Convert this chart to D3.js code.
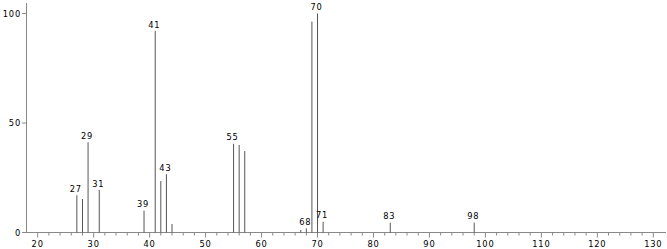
<!DOCTYPE html>
<html><head><meta charset="utf-8">
<script src="https://cdn.jsdelivr.net/npm/d3@7"></script>
<style>
html,body{margin:0;padding:0;background:#fff;}
text{font-family:"DejaVu Sans",sans-serif;font-size:8.3px;fill:#000;letter-spacing:0.8px;}
</style></head>
<body><svg id="c" width="667" height="249"></svg>
<script>
const mz = [27,28,29,31,39,41,42,43,44,55,56,57,67,68,69,70,71,83,98];
const intensity = [17,15.3,41.2,19.4,10,92,23.5,26.6,3.9,40.5,40,37.2,1.1,1.9,96.3,100,4.9,4.5,4.5];
const labeled = [27,29,31,39,41,43,55,68,70,71,83,98];
const xMajorTicks = [20,30,40,50,60,70,80,90,100,110,120,130];
const yTicks = [0,50,100];

const svg = d3.select("#c");
const x = d3.scaleLinear().domain([20,130]).range([37.7,653.3]);
const y = d3.scaleLinear().domain([0,100]).range([232.5,13.5]);
const axisColor = "#888";

svg.append("line").attr("x1",x(17.9)).attr("x2",666).attr("y1",232.5).attr("y2",232.5)
  .attr("stroke",axisColor).attr("stroke-width",1);
svg.append("line").attr("x1",26.5).attr("x2",26.5).attr("y1",3).attr("y2",232.5)
  .attr("stroke",axisColor).attr("stroke-width",1);

const minor = d3.range(20,132,2);
svg.selectAll(".xt").data(minor).enter().append("line")
  .attr("x1",d=>x(d)).attr("x2",d=>x(d)).attr("y1",232.5)
  .attr("y2",d=>xMajorTicks.includes(d)?237.5:235.5)
  .attr("stroke",axisColor).attr("stroke-width",1);
svg.selectAll(".xl").data(xMajorTicks).enter().append("text")
  .attr("x",d=>x(d)).attr("y",246.5).attr("text-anchor","middle").text(d=>d);

svg.selectAll(".yt").data(yTicks).enter().append("line")
  .attr("x1",22).attr("x2",26.5).attr("y1",d=>y(d)).attr("y2",d=>y(d))
  .attr("stroke",axisColor).attr("stroke-width",1);
svg.selectAll(".yl").data(yTicks).enter().append("text")
  .attr("x",21).attr("y",d=>y(d)+3).attr("text-anchor","end").text(d=>d);

svg.selectAll(".bar").data(mz).enter().append("line")
  .attr("x1",d=>x(d)).attr("x2",d=>x(d))
  .attr("y1",232.5).attr("y2",(d,i)=>y(intensity[i]))
  .attr("stroke","#555").attr("stroke-width",1);

svg.selectAll(".pl").data(labeled).enter().append("text")
  .attr("x",d=>x(d)-1).attr("y",d=>y(intensity[mz.indexOf(d)])-3.5)
  .attr("text-anchor","middle").text(d=>d);
</script></body></html>
